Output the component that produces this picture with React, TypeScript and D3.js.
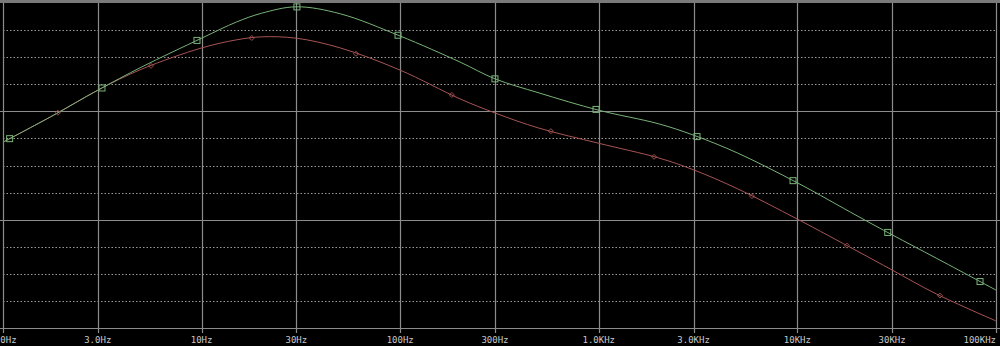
import React from "react";
import * as d3 from "d3";

const freqs = [1, 1.8, 3, 5, 10, 15, 20, 30, 50, 100, 200, 300, 500, 1000, 2000, 3000, 5000, 10000, 20000, 30000, 50000, 100000];
const greenDb = [-25.7, -20.7, -16.1, -11.8, -6.5, -3.5, -1.9, -0.7, -2.0, -6.1, -10.9, -14.0, -16.6, -19.8, -22.3, -24.4, -27.7, -33.2, -39.3, -42.8, -47.1, -53.0];
const redDb = [-25.7, -20.7, -16.1, -12.2, -8.3, -6.8, -6.25, -6.5, -8.3, -12.4, -17.7, -20.3, -23.1, -25.9, -28.6, -30.8, -34.3, -39.9, -45.8, -49.3, -53.7, -58.7];
const greenMarkerFreqs = [1.08, 3.15, 9.48, 30.2, 97.5, 300, 968, 3123, 9506, 28500, 83100];
const redMarkerFreqs = [1.89, 5.56, 17.9, 59.9, 182, 574, 1897, 5907, 17770, 52240];
const tickFreqs = [1, 3, 10, 30, 100, 300, 1000, 3000, 10000, 30000, 100000];
const tickLabels = ["1.0Hz", "3.0Hz", "10Hz", "30Hz", "100Hz", "300Hz", "1.0KHz", "3.0KHz", "10KHz", "30KHz", "100KHz"];
const yTicks = [0, -5, -10, -15, -20, -25, -30, -35, -40, -45, -50, -55, -60];

const W = 1000;
const H = 346;
const left = 3;
const right = 996;
const top = 3;
const bottom = 328;

export default function App() {
  const x = d3.scaleLog().domain([1, 100000]).range([left, right]);
  const y = d3.scaleLinear().domain([-60, 0]).range([bottom, top]);

  const makeLine = (vals: number[]) =>
    d3
      .line<number>()
      .x((_, i) => x(freqs[i]))
      .y((v) => y(v))
      .curve(d3.curveCatmullRom.alpha(0.5))(vals) || "";

  const interp = (vals: number[], f: number) => {
    const lf = Math.log10(f);
    for (let i = 0; i < freqs.length - 1; i++) {
      const a = Math.log10(freqs[i]);
      const b = Math.log10(freqs[i + 1]);
      if (lf >= a && lf <= b) {
        const t = (lf - a) / (b - a);
        return vals[i] + t * (vals[i + 1] - vals[i]);
      }
    }
    return vals[vals.length - 1];
  };

  const gridColor = "#8c8c8c";
  const green = "#79b379";
  const red = "#a85454";

  return (
    <svg
      width={W}
      height={H}
      style={{ position: "fixed", left: 0, top: 0, background: "#000", display: "block" }}
    >
      <rect x={0} y={0} width={W} height={H} fill="#000" />
      {yTicks.map((t, i) => {
        const solid = i % 4 === 0;
        const yy = Math.round(y(t)) + 0.5;
        if (i === 0) {
          return <rect key={i} x={0} y={0} width={W} height={3} fill="#7a7a7a" />;
        }
        return solid ? (
          <line key={i} x1={0} x2={W} y1={yy} y2={yy} stroke={gridColor} strokeWidth={1.2} />
        ) : (
          <line key={i} x1={left} x2={right} y1={yy} y2={yy} stroke="#9a9a9a" strokeWidth={1} strokeDasharray="1.5,2" />
        );
      })}
      {tickFreqs.map((f, i) => {
        const xx = Math.round(x(f)) + 0.5;
        return <line key={i} x1={xx} x2={xx} y1={top} y2={bottom + 5} stroke={gridColor} strokeWidth={1.2} />;
      })}
      <path d={makeLine(redDb)} fill="none" stroke={red} strokeWidth={1} />
      <path d={makeLine(greenDb)} fill="none" stroke={green} strokeWidth={1} />
      {redMarkerFreqs.map((f, i) => {
        const cx = x(f);
        const cy = y(interp(redDb, f));
        return (
          <path
            key={i}
            d={`M${cx},${cy - 2.5}L${cx + 2.5},${cy}L${cx},${cy + 2.5}L${cx - 2.5},${cy}Z`}
            fill="none"
            stroke={red}
            strokeWidth={0.9}
          />
        );
      })}
      {greenMarkerFreqs.map((f, i) => {
        const cx = x(f);
        const cy = y(interp(greenDb, f));
        return <rect key={i} x={cx - 3} y={cy - 3} width={6} height={6} fill="none" stroke={green} strokeWidth={1} />;
      })}
      {tickFreqs.map((f, i) => {
        const last = i === tickFreqs.length - 1;
        return (
          <text
            key={i}
            x={last ? right : x(f)}
            y={343}
            textAnchor={last ? "end" : "middle"}
            fontFamily="DejaVu Sans Mono"
            fontSize={9}
            fill="#c8c8c8"
          >
            {tickLabels[i]}
          </text>
        );
      })}
    </svg>
  );
}
